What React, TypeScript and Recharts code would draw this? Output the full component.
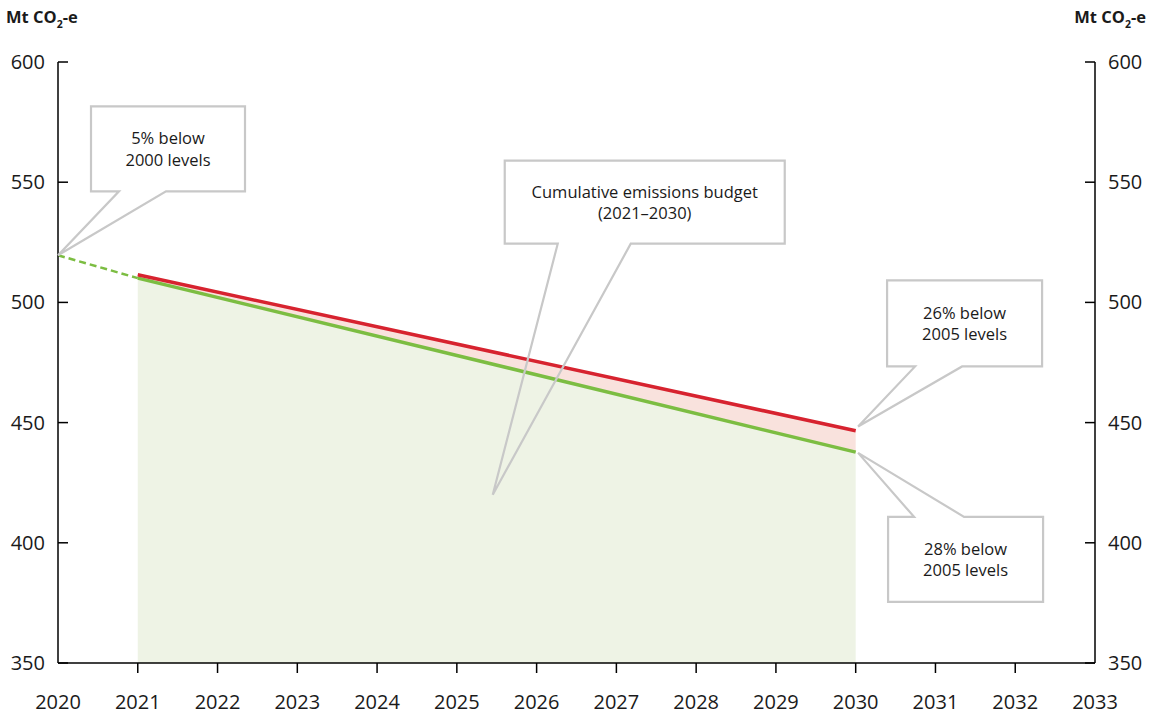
import {
  ComposedChart, Area, Line, XAxis, YAxis, ReferenceDot,
} from 'recharts'

// Emissions trajectory, Mt CO2-e
const YEARS = [2020, 2021, 2030]
const LEAD_IN = [519.6, 510.1, null]   // 2020 starting point to 2021
const CAP_28 = [null, 510.1, 437.7]    // 28% below 2005 levels by 2030
const CAP_26 = [null, 511.5, 446.6]    // 26% below 2005 levels by 2030

const X_TICKS = [2020, 2021, 2022, 2023, 2024, 2025, 2026, 2027, 2028, 2029, 2030, 2031, 2032, 2033]
const Y_TICKS = [350, 400, 450, 500, 550, 600]

const rows = YEARS.map((year, i) => ({
  year,
  leadIn: LEAD_IN[i],
  cap28: CAP_28[i],
  cap26: CAP_26[i],
}))

const FONT = "'Open Sans', sans-serif"
const INK = '#1a1a1a'
const GREEN = '#7cbd42'
const RED = '#d7232f'
const CALLOUT_GREY = '#c8c8c8'

// tip = point the pointer lands on (data units); box/base are pixel offsets from the tip
const CALLOUTS = [
  { x: 2020, y: 519.6, box: [33, -149, 154, 85], base: [61, 108], lines: ['5% below', '2000 levels'] },
  { x: 2025.45, y: 420, box: [12, -334, 280, 83], base: [65, 138], lines: ['Cumulative emissions budget', '(2021–2030)'] },
  { x: 2030.03, y: 448.4, box: [29, -146, 155, 86], base: [57, 104], lines: ['26% below', '2005 levels'] },
  { x: 2030.03, y: 437.4, box: [30, 64, 155, 85], base: [56, 106], lines: ['28% below', '2005 levels'] },
]

function Callout({ cx, cy, box, base, lines }: any) {
  const [bx, by, bw, bh] = box
  const left = cx + bx
  const right = left + bw
  const top = cy + by
  const bottom = top + bh
  const tailDown = by < 0
  const d = tailDown
    ? `M${left},${top} L${right},${top} L${right},${bottom} L${cx + base[1]},${bottom} L${cx},${cy} L${cx + base[0]},${bottom} L${left},${bottom} Z`
    : `M${left},${top} L${cx + base[0]},${top} L${cx},${cy} L${cx + base[1]},${top} L${right},${top} L${right},${bottom} L${left},${bottom} Z`
  const midX = left + bw / 2
  const midY = top + bh / 2
  return (
    <g>
      <path d={d} fill="none" stroke={CALLOUT_GREY} strokeWidth={2.2} strokeLinejoin="miter" />
      {lines.map((t: string, i: number) => (
        <text key={t} x={midX} y={midY - 4.5 + i * 21.5} textAnchor="middle"
          fontFamily={FONT} fontSize={16.5} fill={INK}>
          {t}
        </text>
      ))}
    </g>
  )
}

function XTick({ x, y, payload }: any) {
  const v = payload.value
  const edge = v === X_TICKS[0] || v === X_TICKS[X_TICKS.length - 1]
  return (
    <g>
      {!edge && <line x1={x} x2={x} y1={y} y2={y + 10} stroke="#000" strokeWidth={1.5} />}
      <text x={x} y={y + 46} textAnchor="middle" fontFamily={FONT} fontSize={20} fill={INK}>{v}</text>
    </g>
  )
}

function LeftTick({ x, y, payload }: any) {
  return (
    <g>
      <line x1={x} x2={x + 10} y1={y} y2={y} stroke="#000" strokeWidth={1.5} />
      <text x={x - 13} y={y + 7} textAnchor="end" fontFamily={FONT} fontSize={20} fill={INK}>{payload.value}</text>
    </g>
  )
}

function RightTick({ x, y, payload }: any) {
  return (
    <g>
      <line x1={x - 10} x2={x} y1={y} y2={y} stroke="#000" strokeWidth={1.5} />
      <text x={x + 13} y={y + 7} textAnchor="start" fontFamily={FONT} fontSize={20} fill={INK}>{payload.value}</text>
    </g>
  )
}

function UnitTitle({ viewBox, side }: any) {
  const { x, y, width } = viewBox
  const left = side === 'left'
  return (
    <text x={left ? x + 6 : x + width - 3} y={y - 39} textAnchor={left ? 'start' : 'end'}
      fontFamily={FONT} fontSize={16.5} fontWeight={700} fill={INK}>
      Mt CO<tspan fontSize={10.5} dy={5}>2</tspan><tspan dy={-5}>-e</tspan>
    </text>
  )
}

const axisLine = { stroke: '#000', strokeWidth: 1.5 }

export default function App() {
  return (
    <div style={{ position: 'absolute', left: 0, top: 0, width: 1149, height: 715, background: '#fff' }}>
      <ComposedChart width={1149} height={715} data={rows} margin={{ top: 62, right: 0, bottom: 0, left: 0 }}>
        <XAxis
          dataKey="year" type="number" domain={[2020, 2033]} ticks={X_TICKS} interval={0}
          height={52} tickSize={0} tickMargin={0} tickLine={false} axisLine={axisLine} tick={<XTick />}
        />
        <YAxis
          yAxisId="left" domain={[350, 600]} ticks={Y_TICKS} interval={0} width={58}
          tickSize={0} tickMargin={0} tickLine={false} axisLine={axisLine} tick={<LeftTick />}
          label={{ content: (p: any) => <UnitTitle viewBox={p.viewBox} side="left" /> }}
        />
        <YAxis
          yAxisId="right" orientation="right" domain={[350, 600]} ticks={Y_TICKS} interval={0} width={54}
          tickSize={0} tickMargin={0} tickLine={false} axisLine={axisLine} tick={<RightTick />}
          label={{ content: (p: any) => <UnitTitle viewBox={p.viewBox} side="right" /> }}
        />

        <Area yAxisId="left" type="linear" dataKey="cap28" fill="#eef3e5" fillOpacity={1} stroke="none"
          isAnimationActive={false} activeDot={false} />
        <Area yAxisId="left" type="linear"
          dataKey={(d: any) => (d.cap26 != null ? [d.cap28, d.cap26] : null)}
          fill="#f9e2dd" fillOpacity={1} stroke="none" isAnimationActive={false} activeDot={false} />

        {CALLOUTS.map((c) => (
          <ReferenceDot key={c.lines[0]} yAxisId="left" x={c.x} y={c.y} ifOverflow="visible"
            shape={(p: any) => <Callout cx={p.cx} cy={p.cy} box={c.box} base={c.base} lines={c.lines} />} />
        ))}

        <Line yAxisId="left" type="linear" dataKey="leadIn" stroke={GREEN} strokeWidth={2.5}
          strokeDasharray="7 4" dot={false} activeDot={false} isAnimationActive={false} />
        <Line yAxisId="left" type="linear" dataKey="cap28" stroke={GREEN} strokeWidth={3.5}
          dot={false} activeDot={false} isAnimationActive={false} />
        <Line yAxisId="left" type="linear" dataKey="cap26" stroke={RED} strokeWidth={3.5}
          dot={false} activeDot={false} isAnimationActive={false} />
        {/* mirror series so the right-hand scale gets its ticks */}
        <Line yAxisId="right" type="linear" dataKey="cap28" stroke="none" legendType="none"
          dot={false} activeDot={false} isAnimationActive={false} />
      </ComposedChart>
    </div>
  )
}
